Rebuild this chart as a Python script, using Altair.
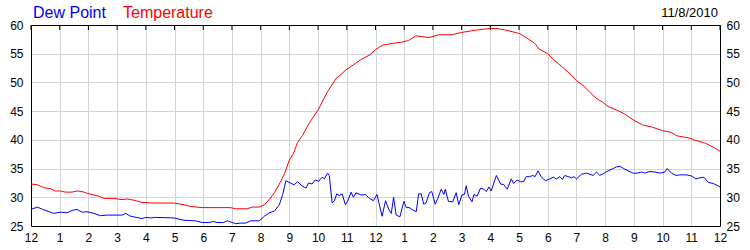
import altair as alt
import pandas as pd

dew_hours = [0.0, 0.22, 0.4, 0.63, 0.79, 1.02, 1.26, 1.43, 1.6, 1.78, 1.95, 2.19, 2.42, 2.65, 3.17, 3.3,
             3.47, 3.87, 4.0, 4.17, 4.35, 4.98, 5.33, 5.73, 5.96, 6.2, 6.36, 6.48, 6.71, 6.83, 6.95, 7.13,
             7.3, 7.48, 7.65, 7.95, 8.13, 8.3, 8.48, 8.65, 8.77, 8.88, 9.06, 9.17, 9.29, 9.44, 9.58, 9.67,
             9.79, 9.9, 10.02, 10.14, 10.22, 10.33, 10.39, 10.49, 10.57, 10.65, 10.74, 10.84, 10.95, 11.03,
             11.15, 11.23, 11.32, 11.5, 11.65, 11.79, 11.93, 12.05, 12.23, 12.35, 12.47, 12.55, 12.63, 12.72,
             12.85, 12.99, 13.07, 13.18, 13.3, 13.42, 13.5, 13.59, 13.68, 13.76, 13.88, 13.96, 14.08, 14.17,
             14.29, 14.38, 14.43, 14.54, 14.69, 14.81, 14.9, 15.01, 15.1, 15.16, 15.24, 15.36, 15.43, 15.54,
             15.66, 15.78, 15.86, 15.95, 16.03, 16.21, 16.36, 16.47, 16.59, 16.73, 16.81, 16.93, 17.06, 17.17,
             17.25, 17.37, 17.48, 17.56, 17.66, 17.78, 17.92, 18.07, 18.19, 18.3, 18.42, 18.51, 18.59, 18.71,
             18.83, 18.91, 19.0, 19.17, 19.35, 19.47, 19.58, 19.7, 19.81, 19.93, 20.1, 20.28, 20.4, 20.51,
             20.65, 20.8, 20.98, 21.12, 21.27, 21.38, 21.56, 21.73, 21.91, 22.08, 22.16, 22.31, 22.47, 22.6,
             22.84, 23.01, 23.16, 23.3, 23.44, 23.59, 23.77, 24.0]
dew_values = [27.9, 28.3, 27.9, 27.5, 27.2, 27.4, 27.3, 27.7, 27.9, 27.4, 27.5, 27.2, 26.8, 26.9, 26.9, 27.2,
              26.7, 26.3, 26.5, 26.4, 26.5, 26.4, 26.0, 25.9, 25.6, 25.6, 25.8, 25.6, 25.6, 25.9, 25.7, 25.4,
              25.5, 25.5, 25.9, 25.9, 26.7, 27.3, 27.6, 28.7, 30.5, 32.9, 32.4, 32.2, 32.7, 32.0, 31.6, 32.5,
              32.3, 33.0, 32.8, 33.5, 33.2, 34.2, 33.8, 29.0, 29.4, 30.6, 30.3, 30.6, 28.7, 29.3,
              30.9, 30.0, 30.8, 30.4, 30.5, 29.8, 29.4, 30.5, 26.7, 29.4, 27.8, 27.2, 30.0, 26.9,
              26.6, 29.3, 28.2, 28.2, 27.8, 27.5, 30.6, 30.6, 28.8, 29.0, 30.8, 31.0, 28.8, 29.8,
              31.4, 30.5, 31.4, 29.3, 29.2, 30.8, 28.7, 30.4, 30.5, 32.0, 30.2, 29.2, 30.5, 30.2,
              31.6, 31.4, 31.0, 31.8, 31.1, 33.8, 32.3, 32.2, 31.4, 33.2, 32.4, 33.0, 32.7, 32.8,
              33.6, 33.6, 33.8, 33.6, 34.6, 33.5, 32.9, 33.2, 33.5, 33.2, 33.6, 33.1, 33.8, 33.6,
              33.4, 33.6, 33.2, 34.0, 34.2, 34.0, 33.8, 34.4, 33.8, 34.1, 34.6, 35.0, 35.3, 35.4,
              35.0, 34.6, 34.2, 34.2, 34.4, 34.2, 34.5, 34.4, 34.2, 34.4, 35.0, 34.2, 33.8, 33.9,
              33.9, 33.7, 33.2, 33.4, 33.5, 32.6, 32.4, 31.8]

temp_hours = [0.0, 0.21, 0.44, 0.67, 0.85, 1.02, 1.2, 1.43, 1.6, 1.78, 1.95, 2.19, 2.36, 2.54, 2.88, 3.17,
              3.35, 3.58, 3.87, 4.28, 4.98, 5.33, 5.56, 5.96, 6.95, 7.13, 7.53, 7.7, 7.95, 8.13, 8.3, 8.48,
              8.65, 8.83, 9.0, 9.14, 9.28, 9.46, 9.7, 10.0, 10.33, 10.63, 10.98, 11.3, 11.5, 11.8, 12.0,
              12.25, 12.6, 12.9, 13.15, 13.4, 13.6, 13.85, 14.2, 14.67, 14.99, 15.5, 15.97, 16.2, 16.56,
              17.02, 17.25, 17.55, 17.7, 18.0, 18.2, 18.55, 18.84, 19.0, 19.23, 19.46, 19.7, 19.93, 20.1,
              20.4, 20.68, 20.97, 21.3, 21.65, 22.0, 22.3, 22.5, 22.95, 23.1, 23.5, 23.85, 24.0]
temp_values = [32.3, 32.2, 31.7, 31.5, 31.1, 31.1, 30.9, 30.9, 31.1, 31.0, 30.7, 30.4, 30.2, 29.8, 29.8, 29.6,
               29.7, 29.5, 29.1, 29.0, 29.0, 28.7, 28.4, 28.2, 28.2, 28.0, 28.0, 28.3, 28.3, 28.7, 29.6, 30.8,
               32.3, 34.1, 36.5, 37.6, 39.5, 40.8, 43.0, 45.2, 48.4, 50.7, 52.2, 53.3, 54.0, 54.8, 55.7,
               56.5, 56.8, 57.0, 57.3, 58.1, 58.0, 57.8, 58.3, 58.3, 58.7, 59.1, 59.4, 59.4, 59.1,
               58.5, 57.8, 56.8, 55.8, 55.0, 54.0, 52.5, 51.2, 50.3, 49.5, 48.3, 47.2, 46.5, 45.8,
               45.2, 44.5, 43.5, 42.6, 42.2, 41.6, 41.3, 40.7, 40.3, 40.0, 39.4, 38.5, 38.0]

series_names = ["Dew Point", "Temperature"]
series_colors = ["#0000ff", "#ff0000"]
hour_ticks = list(range(0, 25))
value_ticks = [25, 30, 35, 40, 45, 50, 55, 60]
date_label = "11/8/2010"

lines_df = pd.concat([
    pd.DataFrame({"hour": dew_hours, "value": dew_values, "series": series_names[0]}),
    pd.DataFrame({"hour": temp_hours, "value": temp_values, "series": series_names[1]}),
], ignore_index=True)
ticks_df = pd.DataFrame({"hour": hour_ticks})

FONT = "Liberation Sans"
x_scale = alt.Scale(domain=[0, 24], nice=False, zero=False)
y_scale = alt.Scale(domain=[25, 60], nice=False, zero=False)
label_expr = "datum.value % 12 == 0 ? '12' : format(datum.value % 12, 'd')"
x_grid_op = {"condition": {"test": "datum.value <= 0 || datum.value >= 24", "value": 0}, "value": 1}
y_grid_op = {"condition": {"test": "datum.value <= 25 || datum.value >= 60", "value": 0}, "value": 1}

lines = alt.Chart(lines_df).mark_line(strokeWidth=1).encode(
    x=alt.X("hour:Q", scale=x_scale,
            axis=alt.Axis(values=hour_ticks, labelExpr=label_expr, grid=True, gridColor="#d3d3d3",
                          gridOpacity=x_grid_op, ticks=False, domain=True, domainColor="black",
                          labelPadding=6, title=None, labelFlush=False, labelOverlap=False)),
    y=alt.Y("value:Q", scale=y_scale,
            axis=alt.Axis(values=value_ticks, grid=True, gridColor="#d3d3d3", gridOpacity=y_grid_op,
                          ticks=False, domain=True, domainColor="black", labelPadding=8, title=None,
                          labelOverlap=False)),
    color=alt.Color("series:N", scale=alt.Scale(domain=series_names, range=series_colors), legend=None),
)

overlay = alt.Chart(lines_df).mark_line(strokeOpacity=0).encode(
    x=alt.X("hour:Q", scale=x_scale,
            axis=alt.Axis(orient="top", values=hour_ticks, labels=False, ticks=False,
                          domain=True, domainColor="black", grid=False, title=None)),
    y=alt.Y("value:Q", scale=y_scale,
            axis=alt.Axis(orient="right", values=value_ticks, ticks=False, domain=True,
                          domainColor="black", grid=False, labelPadding=6, title=None,
                          labelOverlap=False)),
    detail="series:N",
)

top_ticks = alt.Chart(ticks_df).mark_rule(color="black", strokeWidth=1).encode(
    x=alt.X("hour:Q", scale=x_scale, axis=None),
    y=alt.value(0), y2=alt.value(5),
)

t1 = alt.Chart(pd.DataFrame({"t": [series_names[0]]})).mark_text(
    font=FONT, fontSize=16, color=series_colors[0], align="left", baseline="alphabetic"
).encode(text="t:N", x=alt.value(2), y=alt.value(-7))
t2 = alt.Chart(pd.DataFrame({"t": [series_names[1]]})).mark_text(
    font=FONT, fontSize=16, color=series_colors[1], align="left", baseline="alphabetic"
).encode(text="t:N", x=alt.value(92), y=alt.value(-7))
t3 = alt.Chart(pd.DataFrame({"t": [date_label]})).mark_text(
    font=FONT, fontSize=13, color="black", align="right", baseline="alphabetic"
).encode(text="t:N", x=alt.value(687), y=alt.value(-8))

chart = alt.layer(lines, overlay, top_ticks, t1, t2, t3).resolve_scale(
    x="independent", y="independent"
).properties(
    width=689, height=201,
    padding={"left": 31, "top": 25, "right": 30, "bottom": 24},
    autosize="none", background="white",
).configure_view(strokeOpacity=0).configure_axis(
    labelFont=FONT, labelFontSize=12, labelColor="black"
)

chart.save("out.html", embed_options={"renderer": "svg", "actions": False})
